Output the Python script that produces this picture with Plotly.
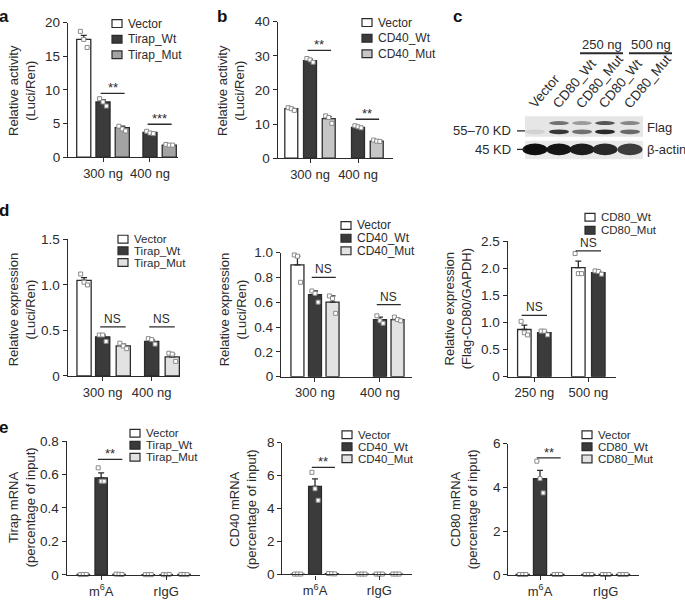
import plotly.graph_objects as go

W, H = 685, 609
FONT = "'Liberation Sans', Arial, Helvetica, sans-serif"
INK = "#2b2b2b"
WHITE = "#ffffff"
WT = "#3b3b3b"
MUT_A = "#a3a3a3"
MUT_B = "#c6c6c6"
MUT_L = "#e2e2e2"

# ---------------- Panel a ----------------
a_groups = ["300 ng", "400 ng"]
a_series = ["Vector", "Tirap_Wt", "Tirap_Mut"]
a_vector = [17.5, None]
a_wt = [8.2, 3.7]
a_mut = [4.4, 1.8]
a_vector_err = [0.6, None]
a_wt_err = [0.3, 0.1]
a_mut_err = [0.2, 0.05]
a_vector_pts = [[18.7, 17.5, 16.3], []]
a_wt_pts = [[8.7, 8.2, 7.6], [3.85, 3.6, 3.5]]
a_mut_pts = [[4.6, 4.2, 3.9], [1.9, 1.8, 1.8]]
a_yticks = [0, 5, 10, 15, 20]
a_yticktext = ["0", "5", "10", "15", "20"]
a_sig = [(0, 1, 2, 9.5, "**"), (1, 1, 2, 4.9, "***")]

# ---------------- Panel b ----------------
b_groups = ["300 ng", "400 ng"]
b_series = ["Vector", "CD40_Wt", "CD40_Mut"]
b_vector = [14.5, None]
b_wt = [28.6, 9.0]
b_mut = [11.6, 5.0]
b_vector_err = [0.3, None]
b_wt_err = [0.4, 0.2]
b_mut_err = [0.6, 0.15]
b_vector_pts = [[14.8, 14.5, 14.0], []]
b_wt_pts = [[29.2, 28.8, 28.1], [9.5, 9.2, 8.9]]
b_mut_pts = [[12.4, 11.9, 10.2], [5.3, 5.0, 4.9]]
b_yticks = [0, 10, 20, 30, 40]
b_yticktext = ["0", "10", "20", "30", "40"]
b_sig = [(0, 1, 2, 31.6, "**"), (1, 1, 2, 11.4, "**")]

# ---------------- Panel c (western blot) ----------------
c_lanes = ["Vector", "CD80_Wt", "CD80_Mut", "CD80_Wt", "CD80_Mut"]
c_doses = ["250 ng", "500 ng"]
c_flag_upper = [0.0, 0.55, 0.35, 0.70, 0.45]
c_flag_lower = [0.08, 0.85, 0.55, 0.92, 0.60]
c_actin = [1.0, 0.97, 0.93, 0.88, 0.78]
c_markers = ["55\u201370 KD", "45 KD"]
c_targets = ["Flag", "\u03b2-actin"]

# ---------------- Panel d (left) ----------------
d1_groups = ["300 ng", "400 ng"]
d1_series = ["Vector", "Tirap_Wt", "Tirap_Mut"]
d1_vector = [1.05, None]
d1_wt = [0.43, 0.38]
d1_mut = [0.33, 0.21]
d1_vector_err = [0.03, None]
d1_wt_err = [0.02, 0.02]
d1_mut_err = [0.02, 0.03]
d1_vector_pts = [[1.12, 1.03, 1.0], []]
d1_wt_pts = [[0.45, 0.45, 0.38], [0.41, 0.40, 0.35]]
d1_mut_pts = [[0.36, 0.33, 0.30], [0.25, 0.24, 0.16]]
d1_yticks = [0, 0.5, 1.0, 1.5]
d1_yticktext = ["0", "0.5", "1.0", "1.5"]
d1_sig = [(0, 1, 2, 0.54, "NS"), (1, 1, 2, 0.54, "NS")]

# ---------------- Panel d (middle) ----------------
d2_groups = ["300 ng", "400 ng"]
d2_series = ["Vector", "CD40_Wt", "CD40_Mut"]
d2_vector = [0.90, None]
d2_wt = [0.66, 0.46]
d2_mut = [0.60, 0.46]
d2_vector_err = [0.07, None]
d2_wt_err = [0.03, 0.02]
d2_mut_err = [0.05, 0.01]
d2_vector_pts = [[0.98, 0.97, 0.76], []]
d2_wt_pts = [[0.69, 0.67, 0.60], [0.49, 0.45, 0.43]]
d2_mut_pts = [[0.65, 0.63, 0.51], [0.48, 0.46, 0.45]]
d2_yticks = [0, 0.2, 0.4, 0.6, 0.8, 1.0]
d2_yticktext = ["0", "0.2", "0.4", "0.6", "0.8", "1.0"]
d2_sig = [(0, 1, 2, 0.80, "NS"), (1, 1, 2, 0.58, "NS")]

# ---------------- Panel d (right) ----------------
d3_groups = ["250 ng", "500 ng"]
d3_series = ["CD80_Wt", "CD80_Mut"]
d3_wt = [0.87, 2.01]
d3_mut = [0.81, 1.92]
d3_wt_err = [0.08, 0.12]
d3_mut_err = [0.02, 0.02]
d3_wt_pts = [[1.02, 0.81, 0.77], [2.27, 1.90, 1.90]]
d3_mut_pts = [[0.84, 0.84, 0.77], [1.95, 1.94, 1.89]]
d3_yticks = [0, 0.5, 1.0, 1.5, 2.0, 2.5]
d3_yticktext = ["0", "0.5", "1.0", "1.5", "2.0", "2.5"]
d3_sig = [(0, 0, 1, 1.13, "NS"), (1, 0, 1, 2.32, "NS")]

# ---------------- Panel e (left) ----------------
e_groups = ["m<sup>6</sup>A", "rIgG"]
e1_series = ["Vector", "Tirap_Wt", "Tirap_Mut"]
e1_vector = [0.003, 0.002]
e1_wt = [0.58, 0.002]
e1_mut = [0.004, 0.003]
e1_vector_err = [0.001, 0.001]
e1_wt_err = [0.03, 0.004]
e1_mut_err = [0.001, 0.001]
e1_vector_pts = [[0.002, 0.003, 0.003], [0.002, 0.002, 0.002]]
e1_wt_pts = [[0.64, 0.56, 0.56], [0.002, 0.001, 0.003]]
e1_mut_pts = [[0.005, 0.004, 0.003], [0.003, 0.003, 0.002]]
e1_yticks = [0, 0.2, 0.4, 0.6, 0.8]
e1_yticktext = ["0", "0.2", "0.4", "0.6", "0.8"]
e1_sig = [(0, 1, 2, 0.69, "**")]

# ---------------- Panel e (middle) ----------------
e2_series = ["Vector", "CD40_Wt", "CD40_Mut"]
e2_vector = [0.02, 0.02]
e2_wt = [5.35, 0.02]
e2_mut = [0.04, 0.02]
e2_vector_err = [0.01, 0.01]
e2_wt_err = [0.45, 0.03]
e2_mut_err = [0.01, 0.01]
e2_vector_pts = [[0.02, 0.02, 0.02], [0.02, 0.02, 0.02]]
e2_wt_pts = [[6.2, 5.2, 4.5], [0.02, 0.02, 0.02]]
e2_mut_pts = [[0.05, 0.04, 0.03], [0.02, 0.02, 0.02]]
e2_yticks = [0, 2, 4, 6, 8]
e2_yticktext = ["0", "2", "4", "6", "8"]
e2_sig = [(0, 1, 2, 6.5, "**")]

# ---------------- Panel e (right) ----------------
e3_series = ["Vector", "CD80_Wt", "CD80_Mut"]
e3_vector = [0.02, 0.02]
e3_wt = [4.4, 0.02]
e3_mut = [0.02, 0.02]
e3_vector_err = [0.01, 0.01]
e3_wt_err = [0.38, 0.02]
e3_mut_err = [0.01, 0.01]
e3_vector_pts = [[0.02, 0.02, 0.02], [0.02, 0.02, 0.02]]
e3_wt_pts = [[5.2, 4.4, 3.75], [0.02, 0.02, 0.02]]
e3_mut_pts = [[0.02, 0.02, 0.02], [0.02, 0.02, 0.02]]
e3_yticks = [0, 2, 4, 6]
e3_yticktext = ["0", "2", "4", "6"]
e3_sig = [(0, 1, 2, 5.35, "**")]


def PX(x):
    return x / W


def PY(y):
    return 1 - y / H


panels = [
    dict(box=(68, 178, 16, 154), groups=a_groups, series=a_series,
         means=[a_vector, a_wt, a_mut], errs=[a_vector_err, a_wt_err, a_mut_err],
         pts=[a_vector_pts, a_wt_pts, a_mut_pts], colors=[WHITE, WT, MUT_A],
         yticks=a_yticks, yticktext=a_yticktext, sig=a_sig,
         slots=[-0.41, 0, 0.41], barw=0.30, xrange=[-0.745, 1.596],
         ytitle=["Relative activity", "(Luci/Ren)"], tpos=(22, 86),
         leg=(112, 17, 16), lfs=12),
    dict(box=(277.7, 392.7, 15, 155), groups=b_groups, series=b_series,
         means=[b_vector, b_wt, b_mut], errs=[b_vector_err, b_wt_err, b_mut_err],
         pts=[b_vector_pts, b_wt_pts, b_mut_pts], colors=[WHITE, WT, MUT_B],
         yticks=b_yticks, yticktext=b_yticktext, sig=b_sig,
         slots=[-0.39, 0, 0.39], barw=0.27, xrange=[-0.673, 1.723],
         ytitle=["Relative activity", "(Luci/Ren)"], tpos=(231, 86),
         leg=(362, 16, 16), lfs=12),
    dict(box=(67.7, 180, 238.3, 378.3), groups=d1_groups, series=d1_series,
         means=[d1_vector, d1_wt, d1_mut], errs=[d1_vector_err, d1_wt_err, d1_mut_err],
         pts=[d1_vector_pts, d1_wt_pts, d1_mut_pts], colors=[WHITE, WT, MUT_L],
         yticks=d1_yticks, yticktext=d1_yticktext, sig=d1_sig,
         slots=[-0.38, 0, 0.42], barw=0.29, xrange=[-0.714, 1.578],
         ytitle=["Relative expression", "(Luci/Ren)"], tpos=(22, 311),
         leg=(118, 238, 12), lfs=11.5),
    dict(box=(281, 411.7, 251.7, 379), groups=d2_groups, series=d2_series,
         means=[d2_vector, d2_wt, d2_mut], errs=[d2_vector_err, d2_wt_err, d2_mut_err],
         pts=[d2_vector_pts, d2_wt_pts, d2_mut_pts], colors=[WHITE, WT, MUT_L],
         yticks=d2_yticks, yticktext=d2_yticktext, sig=d2_sig,
         slots=[-0.27, 0, 0.27], barw=0.20, xrange=[-0.523, 1.488],
         ytitle=["Relative expression", "(Luci/Ren)"], tpos=(233, 311),
         leg=(341, 224, 13), lfs=12),
    dict(box=(507.7, 615.7, 240, 379), groups=d3_groups, series=d3_series,
         means=[d3_wt, d3_mut], errs=[d3_wt_err, d3_mut_err],
         pts=[d3_wt_pts, d3_mut_pts], colors=[WHITE, WT],
         yticks=d3_yticks, yticktext=d3_yticktext, sig=d3_sig,
         slots=[-0.185, 0.185], barw=0.25, xrange=[-0.493, 1.507],
         ytitle=["Relative expression", "(Flag-CD80/GAPDH)"], tpos=(458, 310),
         leg=(585, 215.5, 13.5), lfs=11.5),
    dict(box=(66.7, 200, 445, 582.3), groups=e_groups, series=e1_series,
         means=[e1_vector, e1_wt, e1_mut], errs=[e1_vector_err, e1_wt_err, e1_mut_err],
         pts=[e1_vector_pts, e1_wt_pts, e1_mut_pts], colors=[WHITE, WT, MUT_L],
         yticks=e1_yticks, yticktext=e1_yticktext, sig=e1_sig,
         slots=[-0.275, 0, 0.275], barw=0.19, xrange=[-0.53, 1.52],
         ytitle=["Tirap mRNA", "(percentage of input)"], tpos=(22, 513),
         leg=(130, 437, 12.3), lfs=11.5),
    dict(box=(282.3, 411.7, 446.7, 581.7), groups=e_groups, series=e2_series,
         means=[e2_vector, e2_wt, e2_mut], errs=[e2_vector_err, e2_wt_err, e2_mut_err],
         pts=[e2_vector_pts, e2_wt_pts, e2_mut_pts], colors=[WHITE, WT, MUT_L],
         yticks=e2_yticks, yticktext=e2_yticktext, sig=e2_sig,
         slots=[-0.27, 0, 0.26], barw=0.20, xrange=[-0.509, 1.504],
         ytitle=["CD40 mRNA", "(percentage of input)"], tpos=(243, 515),
         leg=(342, 438.5, 12.3), lfs=11.5),
    dict(box=(508.3, 639, 447.7, 582.3), groups=e_groups, series=e3_series,
         means=[e3_vector, e3_wt, e3_mut], errs=[e3_vector_err, e3_wt_err, e3_mut_err],
         pts=[e3_vector_pts, e3_wt_pts, e3_mut_pts], colors=[WHITE, WT, MUT_L],
         yticks=e3_yticks, yticktext=e3_yticktext, sig=e3_sig,
         slots=[-0.264, 0, 0.264], barw=0.20, xrange=[-0.483, 1.507],
         ytitle=["CD80 mRNA", "(percentage of input)"], tpos=(464, 515),
         leg=(582, 438.5, 12.4), lfs=11.5),
]

fig = go.Figure()
shapes = []
annots = []
layout_axes = {}

for k, p in enumerate(panels, start=1):
    xs = "x" if k == 1 else f"x{k}"
    ys = "y" if k == 1 else f"y{k}"
    xname = "xaxis" if k == 1 else f"xaxis{k}"
    yname = "yaxis" if k == 1 else f"yaxis{k}"
    x0, x1, yt, yb = p["box"]
    n = len(p["groups"])
    jit = [-0.24 * p["barw"], 0.0, 0.24 * p["barw"]]
    for s, name in enumerate(p["series"]):
        xpos = [g + p["slots"][s] for g in range(n)]
        fig.add_trace(go.Bar(
            x=xpos, y=p["means"][s], width=p["barw"], xaxis=xs, yaxis=ys,
            name=name, showlegend=False,
            marker=dict(color=p["colors"][s], line=dict(color=INK, width=1.3)),
            error_y=dict(type="data", array=p["errs"][s],
                         arrayminus=[0] * n, symmetric=False,
                         color=INK, thickness=1.3, width=3),
        ))
        qx, qy = [], []
        for g in range(n):
            for i, val in enumerate(p["pts"][s][g]):
                qx.append(g + p["slots"][s] + jit[i % 3])
                qy.append(val)
        fig.add_trace(go.Scatter(
            x=qx, y=qy, mode="markers", xaxis=xs, yaxis=ys, showlegend=False,
            cliponaxis=False, hoverinfo="skip",
            marker=dict(symbol="square", size=4, color="white",
                        line=dict(color="#8a8a8a", width=1)),
        ))
    layout_axes[xname] = dict(
        domain=[PX(x0), PX(x1)], anchor=ys, range=p["xrange"],
        tickvals=list(range(n)), ticktext=p["groups"],
        showline=True, linecolor=INK, linewidth=1.3, ticks="outside",
        ticklen=4, tickwidth=1.3, tickcolor=INK, showgrid=False,
        zeroline=False, tickfont=dict(size=13, color=INK, family=FONT),
        fixedrange=True)
    layout_axes[yname] = dict(
        domain=[PY(yb), PY(yt)], anchor=xs,
        range=[0, p["yticks"][-1]], tickvals=p["yticks"],
        ticktext=p["yticktext"], showline=True, linecolor=INK,
        linewidth=1.3, ticks="outside", ticklen=4, tickwidth=1.3,
        tickcolor=INK, showgrid=False, zeroline=False,
        tickfont=dict(size=13.5, color=INK, family=FONT), fixedrange=True)
    # y title
    annots.append(dict(
        text="<br>".join(p["ytitle"]), x=PX(p["tpos"][0]), y=PY(p["tpos"][1]),
        xref="paper", yref="paper", textangle=-90, showarrow=False,
        xanchor="center", yanchor="middle",
        font=dict(size=13, color=INK, family=FONT)))
    # legend
    lx, ly, ldy = p["leg"]
    for s, name in enumerate(p["series"]):
        cy = ly + s * ldy
        shapes.append(dict(type="rect", xref="paper", yref="paper",
                           x0=PX(lx), x1=PX(lx + 10), y0=PY(cy + 4), y1=PY(cy - 4),
                           fillcolor=p["colors"][s], line=dict(color=INK, width=1.2)))
        annots.append(dict(text=name, x=PX(lx + 14), y=PY(cy), xref="paper",
                           yref="paper", xanchor="left", yanchor="middle",
                           showarrow=False,
                           font=dict(size=p["lfs"], color=INK, family=FONT)))
    # significance
    for (g, s1, s2, lev, txt) in p["sig"]:
        xa = g + p["slots"][s1] - 0.05
        xb = g + p["slots"][s2] + 0.05
        shapes.append(dict(type="line", xref=xs, yref=ys, x0=xa, x1=xb,
                           y0=lev, y1=lev, line=dict(color=INK, width=1.3)))
        annots.append(dict(text=txt, x=(xa + xb) / 2, y=lev, xref=xs, yref=ys,
                           xanchor="center", yanchor="bottom", showarrow=False,
                           yshift=-4 if "*" in txt else -1,
                           font=dict(size=13 if "*" in txt else 12, color=INK,
                                     family=FONT)))

# ---------------- Western blot (panel c) ----------------
lane_x = [535, 559, 582, 605, 630]
shapes.append(dict(type="rect", xref="paper", yref="paper",
                   x0=PX(525), x1=PX(643), y0=PY(133), y1=PY(112),
                   fillcolor="#e6e6e6", line=dict(width=0), layer="below"))
shapes.append(dict(type="rect", xref="paper", yref="paper",
                   x0=PX(525), x1=PX(643), y0=PY(156), y1=PY(137),
                   fillcolor="#e9e9e9", line=dict(width=0), layer="below"))


def gray(v):
    g = max(0, int(225 - 200 * v))
    return f"rgb({g},{g},{g})"


for i, lx in enumerate(lane_x):
    if c_flag_upper[i] > 0.02:
        shapes.append(dict(type="circle", xref="paper", yref="paper",
                           x0=PX(lx - 10), x1=PX(lx + 10), y0=PY(121), y1=PY(117),
                           fillcolor=gray(c_flag_upper[i]), line=dict(width=0)))
    shapes.append(dict(type="circle", xref="paper", yref="paper",
                       x0=PX(lx - 10), x1=PX(lx + 10), y0=PY(130.5), y1=PY(125.5),
                       fillcolor=gray(c_flag_lower[i]), line=dict(width=0)))
    shapes.append(dict(type="circle", xref="paper", yref="paper",
                       x0=PX(lx - 12.5), x1=PX(lx + 12.5), y0=PY(152), y1=PY(140),
                       fillcolor=gray(c_actin[i] * 1.05), line=dict(width=0)))
    annots.append(dict(text=c_lanes[i], x=PX(lx - 12), y=PY(109.5), xref="paper",
                       yref="paper", xanchor="left", yanchor="bottom",
                       textangle=-50, showarrow=False,
                       font=dict(size=13.5, color=INK, family=FONT)))

for j, (cx, lx0, lx1) in enumerate([(601.5, 580, 623), (650.5, 629, 672)]):
    annots.append(dict(text=c_doses[j], x=PX(cx), y=PY(38), xref="paper",
                       yref="paper", xanchor="center", yanchor="middle",
                       showarrow=False, font=dict(size=13, color=INK, family=FONT)))
    shapes.append(dict(type="line", xref="paper", yref="paper", x0=PX(lx0),
                       x1=PX(lx1), y0=PY(47.5), y1=PY(47.5),
                       line=dict(color=INK, width=2)))

for j, yy in enumerate([127, 146]):
    annots.append(dict(text=c_markers[j], x=PX(513), y=PY(yy), xref="paper",
                       yref="paper", xanchor="right", yanchor="middle",
                       showarrow=False, font=dict(size=13, color=INK, family=FONT)))
    shapes.append(dict(type="line", xref="paper", yref="paper", x0=PX(517),
                       x1=PX(525), y0=PY(yy), y1=PY(yy),
                       line=dict(color=INK, width=1.3)))
    annots.append(dict(text=c_targets[j], x=PX(645), y=PY(yy - 3 if j == 0 else yy),
                       xref="paper", yref="paper", xanchor="left", yanchor="middle",
                       showarrow=False, font=dict(size=13, color=INK, family=FONT)))

# ---------------- Panel letters ----------------
for lab, lx, ly in [("a", 4, 10), ("b", 222, 10), ("c", 457, 10),
                    ("d", 4, 209), ("e", 4, 431)]:
    annots.append(dict(text=f"<b>{lab}</b>", x=PX(lx), y=PY(ly), xref="paper",
                       yref="paper", xanchor="center", yanchor="middle",
                       showarrow=False, font=dict(size=17, color="#111", family=FONT)))

fig.update_layout(
    width=W, height=H, margin=dict(l=0, r=0, t=0, b=0),
    paper_bgcolor="white", plot_bgcolor="white", barmode="overlay",
    font=dict(family=FONT, color=INK), showlegend=False,
    shapes=shapes, annotations=annots, **layout_axes)

fig.write_html("out.html", config={"displayModeBar": False},
               post_script="document.body.style.margin='0';document.body.style.padding='0';")
